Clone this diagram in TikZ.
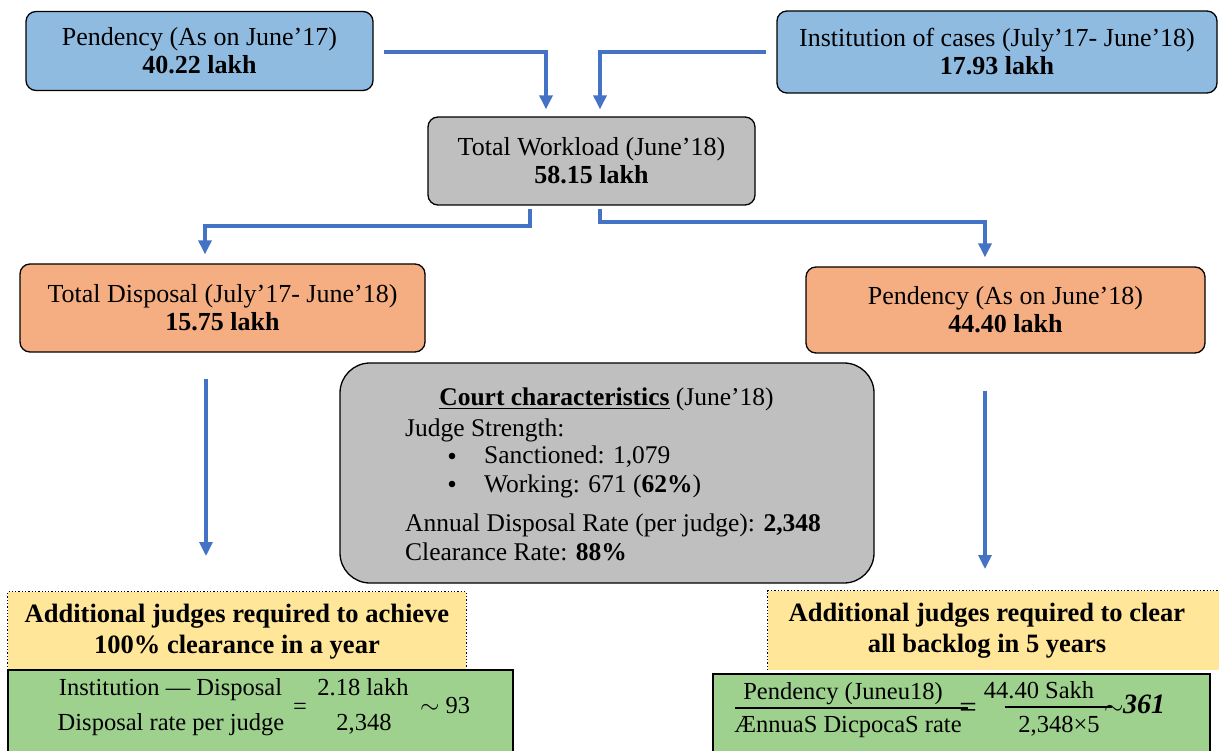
\documentclass[tikz,border=0pt]{standalone}
\usepackage{fontspec}
\setmainfont{Liberation Serif}
\usetikzlibrary{arrows.meta,calc}
\definecolor{bluebox}{HTML}{8FBBE1}
\definecolor{graybox}{HTML}{BFBFBF}
\definecolor{orangebox}{HTML}{F4AE82}
\definecolor{yellowbox}{HTML}{FFE699}
\definecolor{greenbox}{HTML}{9FD18E}
\definecolor{arrowblue}{HTML}{4472C4}
\tikzset{
  box/.style={draw=black,line width=1.3pt,rounded corners=10pt,align=center,inner sep=0pt,font=\fontsize{26}{28}\selectfont},
  conn/.style={draw=arrowblue,line width=3.2pt,-{Triangle[width=13pt,length=14pt]}},
  ytitle/.style={font=\fontsize{26.5}{31}\selectfont\bfseries,align=center},
  gtext/.style={font=\fontsize{24.5}{26}\selectfont,inner sep=0pt,anchor=base},
  ctext/.style={anchor=base west,inner sep=0pt,font=\fontsize{25.5}{28}\selectfont},
}
\begin{document}
\begin{tikzpicture}[x=1pt,y=-1pt]
\useasboundingbox (0,0) rectangle (1219,751);
% top boxes
\node[box,fill=bluebox,minimum width=347pt,minimum height=79pt] (p17) at (199.5,51) {Pendency (As on June’17)\\\textbf{40.22 lakh}};
\node[box,fill=bluebox,minimum width=440pt,minimum height=82pt] (inst) at (997,52) {Institution of cases (July’17- June’18)\\\textbf{17.93 lakh}};
\node[box,fill=graybox,minimum width=327pt,minimum height=88pt] (wl) at (591.5,161) {Total Workload (June’18)\\\textbf{58.15 lakh}};
\node[box,fill=orangebox,minimum width=405pt,minimum height=88pt] (disp) at (222.5,308) {Total Disposal (July’17- June’18)\\\textbf{15.75 lakh}};
\node[box,fill=orangebox,minimum width=399pt,minimum height=86pt] (p18) at (1005.5,310) {Pendency (As on June’18)\\\textbf{44.40 lakh}};
% court characteristics
\node[draw=black,line width=1.3pt,fill=graybox,rounded corners=30pt,minimum width=534pt,minimum height=220pt] (court) at (607,473) {};
\node[ctext,anchor=base] (ctitle) at (606.5,406) {\textbf{\underline{Court characteristics}} (June’18)};
\node[ctext] (js) at (405,436) {Judge Strength:};
\node[ctext] (s1) at (484,464) {Sanctioned: 1,079};
\node[ctext] (s2) at (484,492) {Working: 671 (\textbf{62\%})};
\node[ctext] (adr) at (405,531) {Annual Disposal Rate (per judge): \textbf{2,348}};
\node[ctext] (cr) at (405,560) {Clearance Rate: \textbf{88\%}};
\fill (452,456) circle (3.3pt);
\fill (452,484) circle (3.3pt);
% yellow boxes
\node[fill=yellowbox,minimum width=458pt,minimum height=78pt,inner sep=0pt] (yl) at (237,631) {};
\node[ytitle] (ylt) at (237,632) {Additional judges required to achieve\\100\% clearance in a year};
\draw[dotted,line width=1.3pt] (yl.south west) -- (yl.north west) -- (yl.north east) -- (yl.south east);
\node[fill=yellowbox,minimum width=451pt,minimum height=79pt,inner sep=0pt] (yr) at (993.5,630.5) {};
\node[ytitle] (yrt) at (987,631) {Additional judges required to clear\\all backlog in 5 years};
\draw[dotted,line width=1.3pt] (yr.south west) -- (yr.north west) -- (yr.north east);
% green boxes
\node[fill=greenbox,minimum width=505pt,minimum height=84pt,inner sep=0pt] (gl) at (260.5,712) {};
\draw[line width=2.2pt] (gl.south west) -- (gl.north west) -- (gl.north east) -- (gl.south east);
\node[fill=greenbox,minimum width=497pt,minimum height=80pt,inner sep=0pt] (gr) at (961.5,714) {};
\draw[line width=2pt] (gr.south west) -- (gr.north west) -- (gr.north east) -- (gr.south east);
% left formula
\node[gtext] (f1) at (170.5,695) {Institution — Disposal};
\node[gtext] (f2) at (171,730) {Disposal rate per judge};
\node[gtext] (f3) at (300,714) {=};
\node[gtext] (f4) at (363,695) {2.18 lakh};
\node[gtext] (f5) at (364,730) {2,348};
\node[gtext,anchor=base west] (f6) at (420,713) {$\sim$ 93};
% right formula
\node[gtext] (r1) at (843,699) {Pendency (Juneu18)};
\node[gtext] (r2) at (848,732) {ÆnnuaS DicpocaS rate};
\draw[line width=1.6pt] (735,708) -- (968,708);
\node[gtext,font=\fontsize{31}{31}\selectfont] (r3) at (968,717) {=};
\node[gtext] (r4) at (1039,698) {44.40 Sakh};
\node[gtext] (r5) at (1059,732) {2,348×5};
\draw[line width=1.6pt] (1005,707) -- (1112,707);
\node[gtext,anchor=base west] (r6) at (1104,714) {$\sim$};
\node[anchor=base west,inner sep=0pt,font=\fontsize{28}{28}\selectfont\bfseries\itshape] (r7) at (1123,713) {361};
% connectors
\draw[conn] ($(p17.east)+(10,1)$) -| ($(wl.north)+(-45.5,-7)$);
\draw[conn] ($(inst.west)+(-10,0)$) -| ($(wl.north)+(8.5,-7)$);
\draw[conn] ($(wl.south)+(-61.5,3)$) |- (205,226) -- ($(disp.north)+(-17.5,-9)$);
\draw[conn] ($(wl.south)+(8.5,3)$) |- (985,222) -- ($(p18.north)+(-20.5,-9)$);
\coordinate (le) at (206,556);
\coordinate (re) at (985,569);
\draw[conn] ($(disp.south)+(-16.5,26)$) -- (le);
\draw[conn] ($(p18.south)+(-20.5,37)$) -- (re);
\end{tikzpicture}
\end{document}
